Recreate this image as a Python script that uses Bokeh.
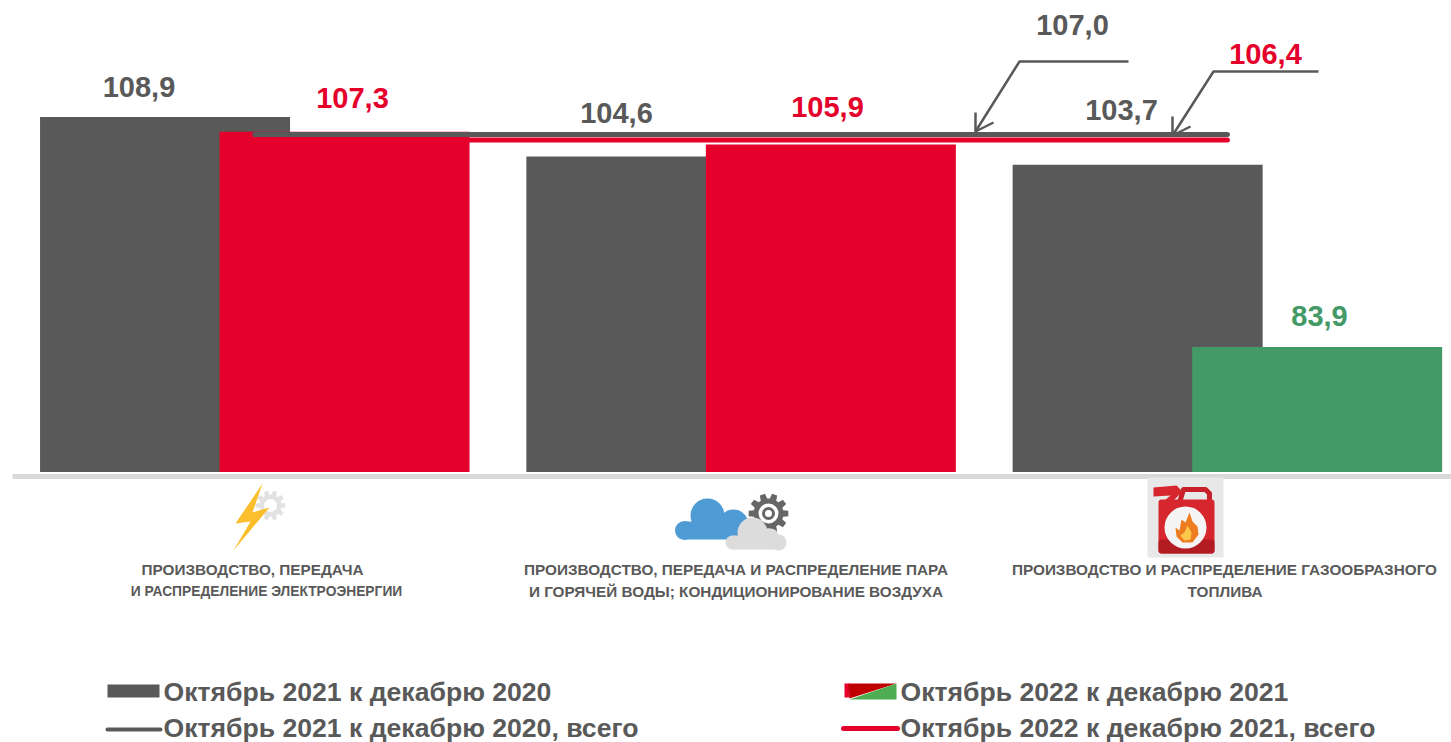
import math
from bokeh.plotting import figure
from bokeh.models import Range1d
from bokeh.core.properties import value
from bokeh.embed import file_html
from bokeh.resources import INLINE

# ---- data ----
categories = [0, 1, 2]
series_2021 = [108.9, 104.6, 103.7]
series_2022 = [107.3, 105.9, 83.9]
total_2021 = 107.0
total_2022 = 106.4
labels_2021 = ["108,9", "104,6", "103,7"]
labels_2022 = ["107,3", "105,9", "83,9"]
total_label_2021 = "107,0"
total_label_2022 = "106,4"
category_lines = [
    ["Производство, передача".upper(), "и распределение электроэнергии".upper()],
    ["Производство, передача и распределение пара".upper(), "и горячей воды; кондиционирование воздуха".upper()],
    ["Производство и распределение газообразного".upper(), "топлива".upper()],
]
legend_labels = [
    "Октябрь 2021 к декабрю 2020",
    "Октябрь 2021 к декабрю 2020, всего",
    "Октябрь 2022 к декабрю 2021",
    "Октябрь 2022 к декабрю 2021, всего",
]

# ---- style / layout ----
GREY = "#595959"
RED = "#e4002b"
GREEN = "#449a66"
FONT = value("Liberation Sans")
PX_PER_CAT = 486.3
PX_PER_UNIT = 9.2
BASE = 70.3
BAR_W = 250 / PX_PER_CAT
OFFSET = 89.75 / PX_PER_CAT


def X(px):
    return (px - 254.3) / PX_PER_CAT


def Y(py):
    return BASE + (471.6 - py) / PX_PER_UNIT


p = figure(width=1451, height=742, output_backend="svg", toolbar_location=None,
           x_range=Range1d(X(0), X(1451)), y_range=Range1d(Y(742), Y(0)),
           x_axis_type=None, y_axis_type=None, min_border=0, outline_line_color=None,
           background_fill_color="white", border_fill_color="white")
p.grid.visible = False


def txt(px, py, s, size, color, align="center"):
    p.text([X(px - 1)], [Y(py - 1)], text=[s], text_font=FONT, text_font_style="bold",
           text_font_size=size, text_color=color, text_align=align, text_baseline="middle")


def poly(points, color):
    p.patch([X(a) for a, b in points], [Y(b) for a, b in points],
            fill_color=color, line_color=None)


def dots(cx, cy, d, color):
    p.scatter([X(cx)], [Y(cy)], size=d, marker="circle", fill_color=color, line_color=None)


def gear(cx, cy, r_out, r_in, teeth, color):
    pts = []
    for i in range(teeth):
        a = 2 * math.pi * i / teeth
        w = 2 * math.pi / teeth
        for da, r in [(-0.30, r_in), (-0.18, r_out), (0.18, r_out), (0.30, r_in)]:
            pts.append((cx + r * math.cos(a + da * w * 1.2), cy + r * math.sin(a + da * w * 1.2)))
    poly(pts, color)


# baseline
p.line([X(12), X(1452)], [Y(476)] * 2, line_color="#d9d9d9", line_width=5)

# bars
base_vals = [BASE] * 3
p.vbar(x=[c - OFFSET for c in categories], top=series_2021, bottom=base_vals, width=BAR_W,
       fill_color=GREY, line_color=None)
p.vbar(x=[c + OFFSET for c in categories], top=series_2022, bottom=base_vals, width=BAR_W,
       fill_color=[RED, RED, GREEN], line_color=None)

# total lines
p.line([categories[0], categories[-1]], [total_2021] * 2, line_color=GREY, line_width=5, line_cap="round")
p.line([categories[0], categories[-1]], [total_2022] * 2, line_color=RED, line_width=5, line_cap="round")

# callouts
for pts in ([(1128, 61), (1019, 61), (975, 131)], [(1318, 71), (1213, 71), (1172, 135)]):
    p.line([X(a) for a, b in pts], [Y(b) for a, b in pts], line_color=GREY, line_width=2.5)
    tx, ty = pts[-1]
    p.line([X(tx), X(tx), X(tx + 18)], [Y(ty - 19), Y(ty), Y(ty - 9)], line_color=GREY, line_width=2.5)

# value labels
label_pos_2021 = [(139.5, 87), (617, 113), (1122, 110)]
label_pos_2022 = [(353, 98), (828, 107), (1320, 316)]
for (a, b), s in zip(label_pos_2021, labels_2021):
    txt(a, b, s, "29px", GREY)
for (a, b), s, c in zip(label_pos_2022, labels_2022, [RED, RED, GREEN]):
    txt(a, b, s, "29px", c)
txt(1073, 25, total_label_2021, "29px", GREY)
txt(1266, 54, total_label_2022, "29px", RED)

# category labels
cat_pos = [[(253, 570), (267, 592)], [(736.5, 570), (736.5, 592)], [(1225, 570), (1225.5, 592)]]
cat_sizes = [["15.3px", "13.8px"], ["15.3px", "15.3px"], ["15.3px", "15.3px"]]
for lines, pos, sizes in zip(category_lines, cat_pos, cat_sizes):
    for s, (a, b), z in zip(lines, pos, sizes):
        txt(a, b, s, z, GREY)

# icon: lightning and gear
gear(270, 505, 15, 11, 10, "#e2e2e2")
dots(270, 505, 13, "white")
poly([(262, 483), (235, 523), (250, 521), (233, 550), (269, 507), (252, 512)], "#fbbf2d")

# icon: clouds and gear
for cx, cy, d in [(684, 530, 19), (707, 515, 34), (733, 524, 30)]:
    dots(cx, cy, d, "#4e9bd5")
poly([(684, 521), (733, 521), (748, 539), (684, 539)], "#4e9bd5")
gear(768, 513, 20, 15, 10, "#666666")
dots(768, 513, 20, "white")
dots(768, 513, 13, "#666666")
dots(768, 513, 7, "white")
for cx, cy, d in [(752, 532, 30), (732, 542, 14), (778, 542, 16), (770, 536, 16)]:
    dots(cx, cy, d, "#dcdcdc")
poly([(732, 535), (778, 535), (778, 549), (732, 549)], "#dcdcdc")

# icon: gas can
poly([(1147, 477), (1223, 477), (1223, 557), (1147, 557)], "#e8e8e8")
p.line([X(1179), X(1183), X(1205), X(1209), X(1209)], [Y(502), Y(489), Y(489), Y(493), Y(502)],
       line_color="#c8202a", line_width=5, line_join="round")
poly([(1153, 487), (1176, 485), (1182, 491), (1168, 505), (1158, 505), (1170, 495), (1153, 496)], "#d8262e")
p.quad(left=[X(1161)], right=[X(1211)], top=[Y(502)], bottom=[Y(550)], fill_color="#d8262e",
       line_color="#d8262e", line_width=6, line_join="round")
p.quad(left=[X(1161)], right=[X(1211)], top=[Y(542)], bottom=[Y(550)], fill_color="#b41c24",
       line_color="#b41c24", line_width=6, line_join="round")
dots(1185, 527, 42, "#f4f4f4")
poly([(1189, 512), (1192, 521), (1197, 526), (1198, 534), (1192, 542), (1182, 542), (1176, 536),
      (1175, 527), (1179, 530), (1181, 519), (1185, 522)], "#ee7d22")
poly([(1187, 525), (1191, 532), (1190, 539), (1184, 540), (1180, 535), (1184, 532)], "#fcc74a")

# legend
poly([(107, 684), (159, 684), (159, 697), (107, 697)], GREY)
p.line([X(107), X(160)], [Y(729)] * 2, line_color=GREY, line_width=4, line_cap="round")
poly([(844, 683), (849, 683), (849, 697), (844, 697)], RED)
poly([(848, 683), (896, 683), (849, 698)], "#c00000")
poly([(896, 683), (896, 699), (849, 699)], "#4ead50")
p.line([X(843), X(897)], [Y(728)] * 2, line_color=RED, line_width=5, line_cap="round")
legend_pos = [(164, 692), (164, 728.5), (901, 692), (901, 728.5)]
for s, (a, b) in zip(legend_labels, legend_pos):
    txt(a, b, s, "26.6px", GREY, align="left")

open("out.html", "w").write(file_html(p, INLINE))
